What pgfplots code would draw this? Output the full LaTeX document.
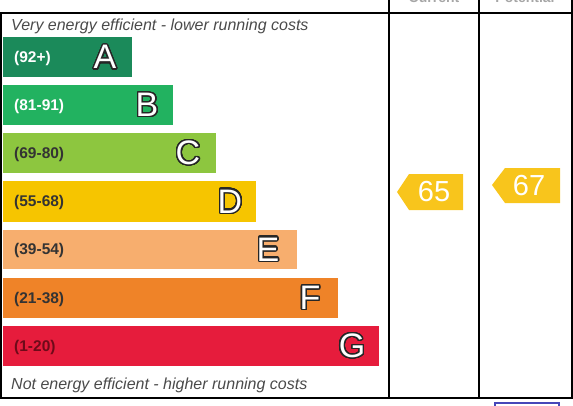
\documentclass[border=0pt]{standalone}
\usepackage{pgfplots}
\pgfplotsset{compat=1.18}
\usepackage{fontspec}
\setmainfont{Liberation Sans}
\usepackage[copies]{contour}
\contourlength{1.4pt}
\contournumber{32}
\definecolor{cA}{HTML}{1B8A5A}
\definecolor{cB}{HTML}{22B260}
\definecolor{cC}{HTML}{8DC63F}
\definecolor{cD}{HTML}{F6C500}
\definecolor{cE}{HTML}{F7AE6E}
\definecolor{cF}{HTML}{EF8328}
\definecolor{cG}{HTML}{E61C3C}
\definecolor{cArrow}{HTML}{F8C51C}
\definecolor{hdr}{HTML}{4A4A4A}
\begin{document}
\begin{tikzpicture}
\begin{axis}[name=ax, scale only axis, width=573pt, height=405pt,
  xmin=0, xmax=573, ymin=0, ymax=405, y dir=reverse, hide axis, clip=false]
% rating bars (left edge 3, right edge = value)
\addplot[fill=cA, draw=none] coordinates {(3,37)(132,37)(132,77)(3,77)} -- cycle;
\addplot[fill=cB, draw=none] coordinates {(3,85)(173,85)(173,125)(3,125)} -- cycle;
\addplot[fill=cC, draw=none] coordinates {(3,133)(216,133)(216,173)(3,173)} -- cycle;
\addplot[fill=cD, draw=none] coordinates {(3,181)(256,181)(256,222)(3,222)} -- cycle;
\addplot[fill=cE, draw=none] coordinates {(3,230)(297,230)(297,269)(3,269)} -- cycle;
\addplot[fill=cF, draw=none] coordinates {(3,278)(338,278)(338,318)(3,318)} -- cycle;
\addplot[fill=cG, draw=none] coordinates {(3,326)(379,326)(379,366)(3,366)} -- cycle;
% current / potential arrows
\addplot[fill=cArrow, draw=none] coordinates {(397,192)(409,174)(463,174)(463,210)(409,210)} -- cycle;
\addplot[fill=cArrow, draw=none] coordinates {(492,185)(505,168)(560,168)(560,203)(505,203)} -- cycle;
% frame
\addplot[black, line width=1.8pt] coordinates {(0,13)(573,13)};
\addplot[black, line width=1.8pt] coordinates {(0,398)(573,398)};
\addplot[black, line width=1.8pt] coordinates {(389,0)(389,398)};
\addplot[black, line width=1.8pt] coordinates {(479,0)(479,398)};
\addplot[black, line width=1.8pt] coordinates {(572,0)(572,398)};
\addplot[black, line width=1.5pt] coordinates {(1,13)(1,398)};
\addplot[draw=blue!45!gray, line width=1.5pt] coordinates {(495,412)(495,403)(559,403)(559,412)};
% header fragments
\node[anchor=base, font=\fontsize{14}{16}\selectfont\bfseries, text=gray!70] at (axis cs:434,2) {Current};
\node[anchor=base, font=\fontsize{14}{16}\selectfont\bfseries, text=gray!70] at (axis cs:525,2) {Potential};
% texts
\node[anchor=base west, inner sep=0pt, font=\fontsize{16}{18}\selectfont\itshape, text=hdr] at (axis cs:11,30) {Very energy efficient - lower running costs};
\node[anchor=base west, inner sep=0pt, font=\fontsize{16}{18}\selectfont\itshape, text=hdr] at (axis cs:11,389) {Not energy efficient - higher running costs};
\node[anchor=west, inner sep=0pt, font=\fontsize{15.5}{17}\selectfont\bfseries, text=white] at (axis cs:14,58.5) {(92+)};
\node[anchor=west, inner sep=0pt, font=\fontsize{15.5}{17}\selectfont\bfseries, text=white] at (axis cs:14,106) {(81-91)};
\node[anchor=west, inner sep=0pt, font=\fontsize{15.5}{17}\selectfont\bfseries, text=black!80] at (axis cs:14,154) {(69-80)};
\node[anchor=west, inner sep=0pt, font=\fontsize{15.5}{17}\selectfont\bfseries, text=black!80] at (axis cs:14,202.5) {(55-68)};
\node[anchor=west, inner sep=0pt, font=\fontsize{15.5}{17}\selectfont\bfseries, text=black!80] at (axis cs:14,250.5) {(39-54)};
\node[anchor=west, inner sep=0pt, font=\fontsize{15.5}{17}\selectfont\bfseries, text=black!80] at (axis cs:14,299) {(21-38)};
\node[anchor=west, inner sep=0pt, font=\fontsize{15.5}{17}\selectfont\bfseries, text={rgb,255:red,110;green,10;blue,25}] at (axis cs:14,347) {(1-20)};
% letters
\node[font=\fontsize{34}{36}\selectfont, inner sep=0pt] at (axis cs:105,58) {\contour{black!85}{\textcolor{white}{A}}};
\node[font=\fontsize{34}{36}\selectfont, inner sep=0pt] at (axis cs:147,105.5) {\contour{black!85}{\textcolor{white}{B}}};
\node[font=\fontsize{34}{36}\selectfont, inner sep=0pt] at (axis cs:188,153.5) {\contour{black!85}{\textcolor{white}{C}}};
\node[font=\fontsize{34}{36}\selectfont, inner sep=0pt] at (axis cs:230,202) {\contour{black!85}{\textcolor{white}{D}}};
\node[font=\fontsize{34}{36}\selectfont, inner sep=0pt] at (axis cs:268,250) {\contour{black!85}{\textcolor{white}{E}}};
\node[font=\fontsize{34}{36}\selectfont, inner sep=0pt] at (axis cs:310,298.5) {\contour{black!85}{\textcolor{white}{F}}};
\node[font=\fontsize{34}{36}\selectfont, inner sep=0pt] at (axis cs:352,346.5) {\contour{black!85}{\textcolor{white}{G}}};
% arrow values
\node[font=\fontsize{29}{31}\selectfont, text=white, inner sep=0pt] at (axis cs:434,192) {65};
\node[font=\fontsize{29}{31}\selectfont, text=white, inner sep=0pt] at (axis cs:529,185.5) {67};
\end{axis}
\pgfresetboundingbox
\path[use as bounding box] (ax.south west) rectangle (ax.north east);
\end{tikzpicture}
\end{document}
